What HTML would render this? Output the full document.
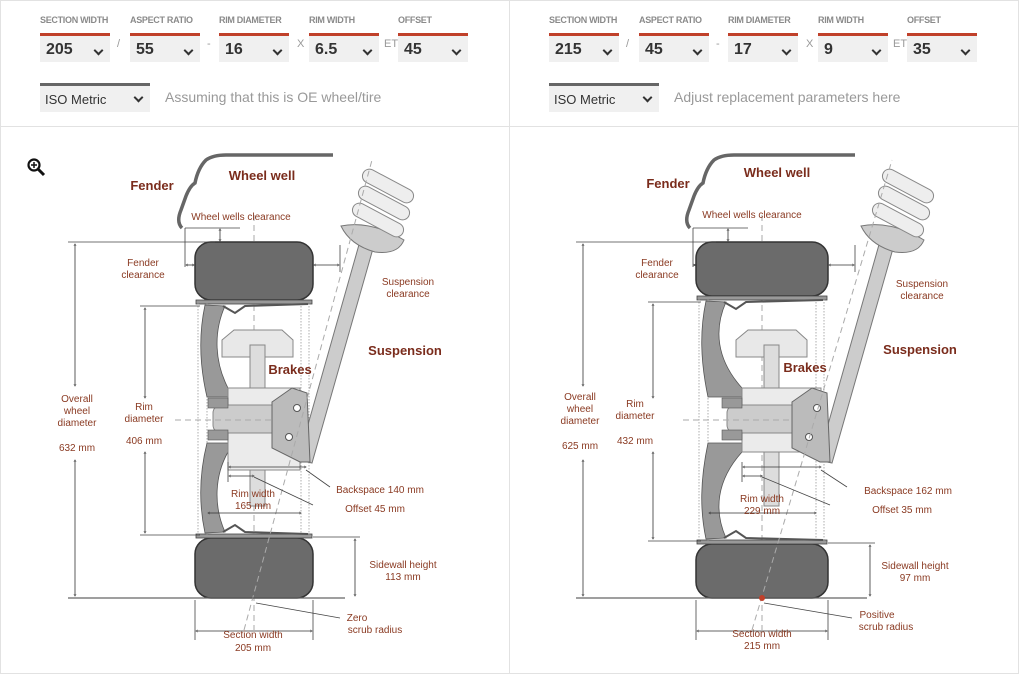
<!DOCTYPE html>
<html><head><meta charset="utf-8"><style>
body{margin:0;width:1019px;height:674px;background:#fff;font-family:"Liberation Sans",sans-serif;position:relative;overflow:hidden}
.a{position:absolute}
.lbl{font-size:9px;font-weight:bold;color:#8a8a8a;letter-spacing:-0.3px}
.sel{position:absolute;top:33px;width:70px;height:29px;background:#f0f0f0;border-top:3px solid #c0402a;box-sizing:border-box;font-weight:bold;font-size:16px;color:#333;padding:5px 0 0 6px}
.sel:after,.iso:after{content:"";position:absolute;right:8px;top:11px;width:5px;height:5px;border-right:2px solid #333;border-bottom:2px solid #333;transform:rotate(45deg)}
.sep{position:absolute;top:38px;font-size:11px;color:#999}
.iso{position:absolute;top:83px;width:110px;height:29px;background:#f0f0f0;border-top:3px solid #666;box-sizing:border-box;font-size:13px;color:#333;padding:6px 0 0 5px}
.iso:after{top:8px}
.hint{position:absolute;top:89px;font-size:14px;color:#999}
svg text{font-family:"Liberation Sans",sans-serif;fill:#8a3a22;font-size:10px;text-anchor:middle}
svg text.b{font-weight:bold;font-size:13px;fill:#7a2c1c}
</style></head><body>
<div class="a" style="left:0;top:0;width:1017px;height:672px;border:1px solid #e2e2e2"></div>
<div class="a" style="left:509px;top:0;width:1px;height:674px;background:#e2e2e2"></div>
<div class="a" style="left:0;top:126px;width:1019px;height:1px;background:#e2e2e2"></div>

<div id="hdr"></div>
<svg id="s" class="a" style="left:0;top:0" width="1019" height="674"></svg>
<script>
var h='';
function head(dx,vals,hint){
 var xs=[40,130,219,309,398],n=['SECTION WIDTH','ASPECT RATIO','RIM DIAMETER','RIM WIDTH','OFFSET'];
 var seps=[['/',117],['-',207],['X',297],['ET',384]];
 for(var i=0;i<5;i++){h+='<div class="a lbl" style="left:'+(xs[i]+dx)+'px;top:15px">'+n[i]+'</div><div class="sel" style="left:'+(xs[i]+dx)+'px">'+vals[i]+'</div>';}
 seps.forEach(function(s){h+='<div class="sep" style="left:'+(s[1]+dx)+'px">'+s[0]+'</div>'});
 h+='<div class="iso" style="left:'+(40+dx)+'px">ISO Metric</div><div class="hint" style="left:'+(165+dx)+'px">'+hint+'</div>';
}
head(0,['205','55','16','6.5','45'],'Assuming that this is OE wheel/tire');
head(509,['215','45','17','9','35'],'Adjust replacement parameters here');
document.getElementById('hdr').innerHTML=h;

function arrow(x1,y1,x2,y2){return '<line x1="'+x1+'" y1="'+y1+'" x2="'+x2+'" y2="'+y2+'" stroke="#333" stroke-width="0.8" marker-start="url(#m)" marker-end="url(#m)"/>';}
function ln(x1,y1,x2,y2,c,w){return '<line x1="'+x1+'" y1="'+y1+'" x2="'+x2+'" y2="'+y2+'" stroke="'+(c||'#444')+'" stroke-width="'+(w||0.8)+'"/>';}
function tx(x,y,t,c){return '<text x="'+x+'" y="'+y+'"'+(c?' class="'+c+'"':'')+'>'+t+'</text>';}
function diag(o){
 var d=o.dx,c=254+d,hw=59+o.e,L=c-hw,R=c+hw,k=o.k,rt=o.rt,rb=o.rb,s='';
 s+='<line x1="'+c+'" y1="215" x2="'+c+'" y2="630" stroke="#aaa" stroke-dasharray="6,4"/>';
 s+='<path d="M'+(182+d)+',228 Q'+(176+d)+',222 '+(181+d)+',210 L'+(186+d)+',196 Q'+(190+d)+',186 '+(195+d)+',183 Q'+(198+d)+',168 '+(206+d)+',160 Q'+(213+d)+',155 '+(226+d)+',155 L'+(333+d+o.e*2)+',155" fill="none" stroke="#666" stroke-width="3.5"/>';
 s+='<rect x="'+L+'" y="242" width="'+(2*hw)+'" height="'+(rt-245)+'" rx="16" fill="#6b6b6b" stroke="#333" stroke-width="1.5"/>';
 s+='<rect x="'+L+'" y="'+(rb+3)+'" width="'+(2*hw)+'" height="'+(598-rb-3)+'" rx="16" fill="#6b6b6b" stroke="#333" stroke-width="1.5"/>';
 s+='<rect x="'+(L+1)+'" y="'+(rt-3)+'" width="'+(2*hw-2)+'" height="4" fill="#999" stroke="#444" stroke-width="0.8"/>';
 s+='<rect x="'+(L+1)+'" y="'+(rb-1)+'" width="'+(2*hw-2)+'" height="4" fill="#999" stroke="#444" stroke-width="0.8"/>';
 [L+3,L+12,R-12,R-4].forEach(function(x){s+='<line x1="'+x+'" y1="'+rt+'" x2="'+x+'" y2="'+rb+'" stroke="#999" stroke-dasharray="1.5,1.5" stroke-width="0.8"/>'});
 var wx=L+10, hb=228+d+o.h;
 s+='<path d="M'+wx+','+(rt+2)+' L'+(wx+20)+','+(rt+3)+' C'+(wx+8)+','+(rt+30)+' '+(wx+10)+','+(rt+60)+' '+(hb)+',388 L'+(hb)+',397 L'+(wx+2)+',397 C'+(wx-6)+','+(rt+60)+' '+(wx-6)+','+(rt+30)+' '+wx+','+(rt+2)+' Z" fill="#999" stroke="#555" stroke-width="0.8"/>';
 s+='<path d="M'+wx+','+(rb-2)+' L'+(wx+20)+','+(rb-3)+' C'+(wx+8)+','+(rb-30)+' '+(wx+10)+','+(rb-60)+' '+(hb)+',452 L'+(hb)+',443 L'+(wx+2)+',443 C'+(wx-6)+','+(rb-60)+' '+(wx-6)+','+(rb-30)+' '+wx+','+(rb-2)+' Z" fill="#999" stroke="#555" stroke-width="0.8"/>';
 s+='<path d="M'+(wx+18)+','+(rt+3)+' L'+(wx+30)+','+(rt+10)+' L'+(wx+40)+','+(rt+3)+' L'+(R-5)+','+(rt+1)+'" fill="none" stroke="#555" stroke-width="2"/>';
 s+='<path d="M'+(wx+18)+','+(rb-3)+' L'+(wx+30)+','+(rb-10)+' L'+(wx+40)+','+(rb-3)+' L'+(R-5)+','+(rb-1)+'" fill="none" stroke="#555" stroke-width="2"/>';
 var bx=d+o.h;
 s+='<rect x="'+(250+bx)+'" y="340" width="15" height="166" fill="#ddd" stroke="#888"/>';
 s+='<path d="M'+(222+bx)+',340 L'+(234+bx)+',330 L'+(282+bx)+',330 L'+(293+bx)+',340 L'+(293+bx)+',357 L'+(265+bx)+',357 L'+(265+bx)+',345 L'+(250+bx)+',345 L'+(250+bx)+',357 L'+(222+bx)+',357 Z" fill="#e8e8e8" stroke="#888"/>';
 s+='<rect x="'+hb+'" y="388" width="'+(72+o.e)+'" height="'+(o.hh)+'" fill="#ebebeb" stroke="#888"/>';
 s+='<rect x="'+(hb-15)+'" y="405" width="'+(92+o.e)+'" height="28" rx="8" fill="#ccc" stroke="#888"/>';
 s+='<rect x="'+(hb-20)+'" y="398" width="20" height="10" fill="#999" stroke="#555" stroke-width=".6"/>';
 s+='<rect x="'+(hb-20)+'" y="430" width="20" height="10" fill="#999" stroke="#555" stroke-width=".6"/>';
 s+='<line x1="'+(175+d)+'" y1="420" x2="'+(322+d+o.e*2)+'" y2="420" stroke="#aaa" stroke-dasharray="6,4"/>';
 s+='<polygon points="'+(298+k)+',460 '+(312+k)+',463 '+(376+k)+',238 '+(362+k)+',234" fill="#ccc" stroke="#777"/>';
 s+='<path d="M'+(272+k)+',402 L'+(292+k)+',388 L'+(307+k)+',393 L'+(310+k)+',462 L'+(300+k)+',462 L'+(272+k)+',448 Z" fill="#bbb" stroke="#666"/>';
 s+='<circle cx="'+(297+k)+'" cy="408" r="3.5" fill="#fff" stroke="#555"/><circle cx="'+(289+k)+'" cy="437" r="3.5" fill="#fff" stroke="#555"/>';
 s+='<path d="M'+(341+k)+',226 Q'+(370+k)+',220 '+(404+k)+',240 Q'+(398+k)+',255 '+(375+k)+',252 Q'+(350+k)+',245 '+(341+k)+',226 Z" fill="#ccc" stroke="#777"/>';
 [[388,186],[384,203],[378,220]].forEach(function(p){s+='<rect x="'+(p[0]+k-28)+'" y="'+(p[1]-7)+'" width="56" height="14" rx="7" fill="#eee" stroke="#888" transform="rotate(28 '+(p[0]+k)+' '+p[1]+')"/>'});
 s+='<line x1="'+(244+d)+'" y1="630" x2="'+(372+k)+'" y2="160" stroke="#aaa" stroke-dasharray="6,4"/>';
 s+=ln(68+d,242,L+20,242)+ln(68+d,598,345+d+o.e*2,598,'#666',1.2);
 s+=arrow(75+d,244,75+d,386)+arrow(75+d,596,75+d,460);
 s+=ln(140+d,rt+3,L+5,rt+3)+ln(140+d,rb,L+5,rb);
 s+=arrow(145+d,rt+5,145+d,398)+arrow(145+d,rb-2,145+d,452);
 s+=ln(185+d,228,240+d,228)+arrow(220+d,229,220+d,241);
 s+=ln(185+d,228,185+d,267)+arrow(186+d,265,L-1,265);
 s+=ln(R+27,245,R+27,272)+arrow(R+1,265,R+26,265);
 s+=ln(R,rb+2,R+47,rb+2)+arrow(R+42,rb+4,R+42,596);
 s+=ln(L,600,L,640)+ln(R,600,R,640)+arrow(L+1,631,R-1,631);
 s+=arrow(hb+1,467,R-7,467)+ln(hb,462,hb,482)+arrow(hb+1,476,c,476);
 s+=arrow(L+13,513,R-12,513);
 s+=ln(R-7,470,o.bx-15,487)+ln(c,477,o.bx-32,505)+ln(c+2,603,o.sx-5,618);
 if(o.dot)s+='<circle cx="'+c+'" cy="598" r="3" fill="#c0402a"/>';
 o.t.forEach(function(t){s+=tx(t[0],t[1],t[2],t[3])});
 return s;
}
var S='<defs><marker id="m" viewBox="0 0 10 10" refX="5" refY="5" markerWidth="5" markerHeight="5" orient="auto-start-reverse"><path d="M0,2 L6,5 L0,8" fill="none" stroke="#333"/></marker></defs>';
S+='<circle cx="34" cy="165" r="5.5" fill="none" stroke="#111" stroke-width="2.2"/><line x1="38" y1="169" x2="44" y2="175" stroke="#111" stroke-width="3"/><line x1="31" y1="165" x2="37" y2="165" stroke="#111" stroke-width="1.5"/><line x1="34" y1="162" x2="34" y2="168" stroke="#111" stroke-width="1.5"/>';
S+=diag({dx:0,e:0,k:0,h:0,hh:82,rt:303,rb:535,bx:345,sx:345,t:[
[152,190,'Fender','b'],[262,180,'Wheel well','b'],[241,220,'Wheel wells clearance'],[143,266,'Fender'],[143,278,'clearance'],
[408,285,'Suspension'],[408,297,'clearance'],[405,355,'Suspension','b'],[290,374,'Brakes','b'],
[77,402,'Overall'],[77,414,'wheel'],[77,426,'diameter'],[77,451,'632 mm'],[144,410,'Rim'],[144,422,'diameter'],[144,444,'406 mm'],
[380,493,'Backspace 140 mm'],[375,512,'Offset 45 mm'],[253,497,'Rim width'],[253,509,'165 mm'],[403,568,'Sidewall height'],[403,580,'113 mm'],
[357,621,'Zero'],[375,633,'scrub radius'],[253,638,'Section width'],[253,651,'205 mm']]});
S+=diag({dx:508,e:7,k:520,h:6,hh:64,rt:299,rb:541,bx:862,sx:857,dot:1,t:[
[668,188,'Fender','b'],[777,177,'Wheel well','b'],[752,218,'Wheel wells clearance'],[657,266,'Fender'],[657,278,'clearance'],
[922,287,'Suspension'],[922,299,'clearance'],[920,354,'Suspension','b'],[805,372,'Brakes','b'],
[580,400,'Overall'],[580,412,'wheel'],[580,424,'diameter'],[580,449,'625 mm'],[635,407,'Rim'],[635,419,'diameter'],[635,444,'432 mm'],
[908,494,'Backspace 162 mm'],[902,513,'Offset 35 mm'],[762,502,'Rim width'],[762,514,'229 mm'],[915,569,'Sidewall height'],[915,581,'97 mm'],
[877,618,'Positive'],[886,630,'scrub radius'],[762,637,'Section width'],[762,649,'215 mm']]});
document.getElementById('s').innerHTML=S;
</script>
</body></html>
